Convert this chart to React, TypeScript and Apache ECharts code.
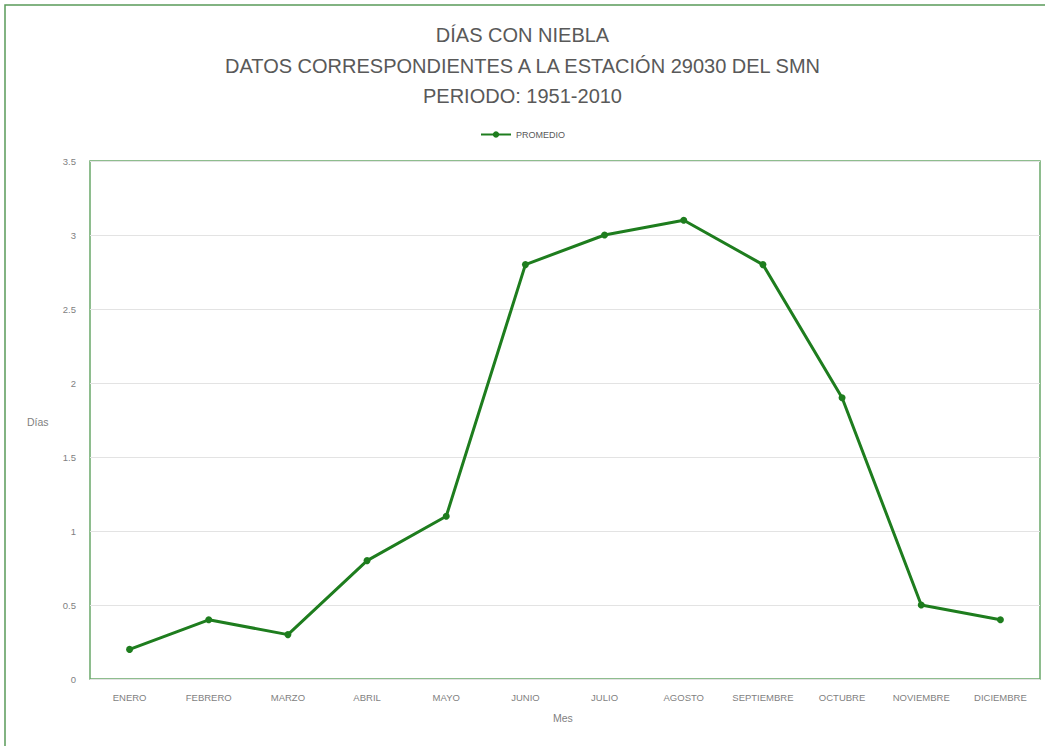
import React, { useEffect, useRef } from "react";
import * as echarts from "echarts";

const months = ["ENERO", "FEBRERO", "MARZO", "ABRIL", "MAYO", "JUNIO", "JULIO", "AGOSTO", "SEPTIEMBRE", "OCTUBRE", "NOVIEMBRE", "DICIEMBRE"];
const promedio = [0.2, 0.4, 0.3, 0.8, 1.1, 2.8, 3.0, 3.1, 2.8, 1.9, 0.5, 0.4];
const titleLines = ["DÍAS CON NIEBLA", "DATOS CORRESPONDIENTES A LA ESTACIÓN 29030 DEL SMN", "PERIODO: 1951-2010"];
const seriesName = "PROMEDIO";
const yTitle = "Días";
const xTitle = "Mes";

export default function App() {
  const ref = useRef<HTMLDivElement>(null);
  useEffect(() => {
    if (!ref.current) return;
    const chart = echarts.init(ref.current, null, { renderer: "svg" });
    const font = "Liberation Sans";
    chart.setOption({
      animation: false,
      backgroundColor: "#ffffff",
      textStyle: { fontFamily: font },
      title: {
        text: titleLines.join("\n"),
        left: "center",
        top: 15,
        textStyle: { fontFamily: font, fontSize: 20, fontWeight: "normal", color: "#595959", lineHeight: 30.5 },
      },
      legend: {
        top: 125,
        left: "center",
        itemWidth: 30,
        itemHeight: 8,
        itemGap: 4,
        textStyle: { fontFamily: font, fontSize: 9, color: "#595959" },
        data: [seriesName],
      },
      grid: { left: 90, right: 5, top: 161, bottom: 67, show: true, borderColor: "#6aa86a", borderWidth: 1.5, backgroundColor: "transparent" },
      xAxis: {
        type: "category",
        data: months,
        boundaryGap: true,
        axisLine: { show: false },
        axisTick: { show: false },
        axisLabel: { fontFamily: font, fontSize: 9.5, color: "#7f7f7f", margin: 13, interval: 0 },
      },
      yAxis: {
        type: "value",
        min: 0,
        max: 3.5,
        interval: 0.5,
        axisLine: { show: false },
        axisTick: { show: false },
        axisLabel: { fontFamily: font, fontSize: 9.5, color: "#7f7f7f", margin: 14 },
        splitLine: { lineStyle: { color: "#e3e3e3", width: 1 } },
      },
      graphic: [
        { type: "rect", shape: { x: 5, y: 5, width: 1060, height: 760 }, style: { fill: "none", stroke: "#5a9a5a", lineWidth: 1.5 }, silent: true },
        { type: "text", left: 27, top: 416, style: { text: yTitle, fontFamily: font, fontSize: 10.5, fill: "#7f7f7f" } },
        { type: "text", left: 553, top: 712, style: { text: xTitle, fontFamily: font, fontSize: 10.5, fill: "#7f7f7f" } },
      ],
      series: [
        {
          name: seriesName,
          type: "line",
          data: promedio,
          symbol: "circle",
          symbolSize: 7,
          lineStyle: { color: "#1e7d1e", width: 3 },
          itemStyle: { color: "#1e7d1e" },
        },
      ],
    });
    return () => chart.dispose();
  }, []);
  return <div ref={ref} style={{ position: "fixed", left: 0, top: 0, width: 1045, height: 746 }} />;
}
